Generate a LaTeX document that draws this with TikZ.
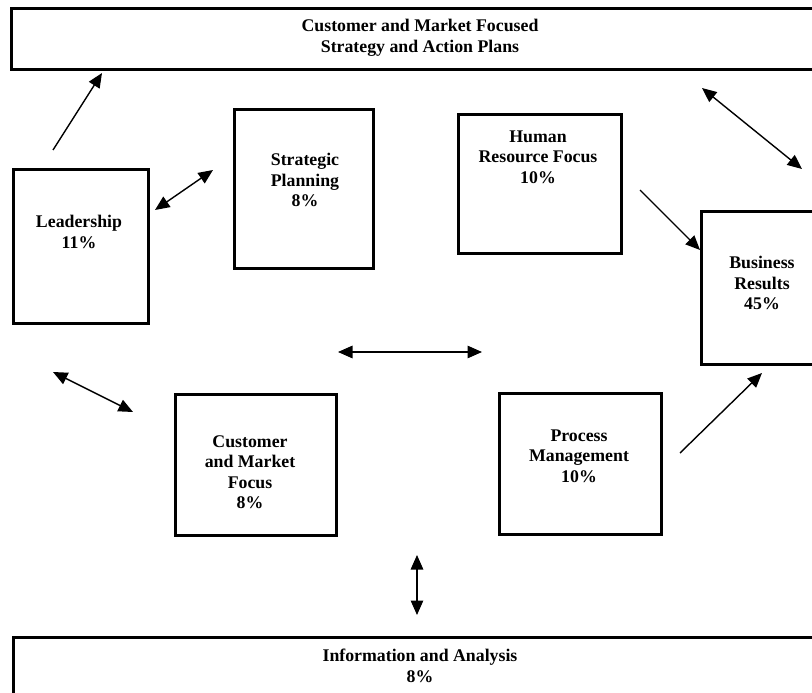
\documentclass[tikz,border=0pt]{standalone}
\usepackage{fontspec}
\setmainfont{Liberation Serif}
\usetikzlibrary{arrows.meta}

\tikzset{
  frame/.style={draw=black, line width=3pt, inner sep=0pt},
  caption/.style={align=center, inner sep=0pt,
    font=\fontsize{17.8}{20.5}\selectfont\bfseries},
  link/.style={line width=1.4pt,
    -{Triangle[length=14.5pt,width=12.5pt]}},
  twoway/.style={line width=1.4pt,
    {Triangle[length=14.5pt,width=12.5pt]}-{Triangle[length=14.5pt,width=12.5pt]}},
}

\begin{document}
\begin{tikzpicture}[x=1pt,y=-1pt]
  \useasboundingbox (0,0) rectangle (812,693);
  \begin{scope}
    \clip (0,0) rectangle (812,693);

    % boxes (placed by their top left corners, y downwards)
    \node[frame, minimum width=820pt, minimum height=61pt, anchor=north west] (strat) at (10,7) {};
    \node[frame, minimum width=818pt, minimum height=90pt, anchor=north west] (info) at (12,636) {};
    \node[frame, minimum width=135pt, minimum height=154pt, anchor=north west] (lead) at (12,168) {};
    \node[frame, minimum width=139pt, minimum height=159pt, anchor=north west] (plan) at (233,108) {};
    \node[frame, minimum width=163pt, minimum height=139pt, anchor=north west] (hr) at (457,113) {};
    \node[frame, minimum width=124pt, minimum height=153pt, anchor=north west] (biz) at (700,210) {};
    \node[frame, minimum width=161pt, minimum height=141pt, anchor=north west] (cmf) at (174,393) {};
    \node[frame, minimum width=162pt, minimum height=141pt, anchor=north west] (proc) at (498,392) {};

    % texts
    \node[caption] (tstrat) at (420,38) {Customer and Market Focused\\Strategy and Action Plans};
    \node[caption] (tinfo) at (420,666) {Information and Analysis\\8\%};
    \node[caption] (tlead) at (79,232) {Leadership\\11\%};
    \node[caption] (tplan) at (305,180) {Strategic\\Planning\\8\%};
    \node[caption] (thr) at (538,157) {Human\\Resource Focus\\10\%};
    \node[caption] (tbiz) at (762,283) {Business\\Results\\45\%};
    \node[caption] (tcmf) at (250,472) {Customer\\and Market\\Focus\\8\%};
    \node[caption] (tproc) at (579,456) {Process\\Management\\10\%};

    % connector end points
    \coordinate (a1s) at (53,150);  \coordinate (a1e) at (102,73);
    \coordinate (a2s) at (155,210); \coordinate (a2e) at (213,170);
    \coordinate (a3s) at (702,88);  \coordinate (a3e) at (802,169);
    \coordinate (a4s) at (640,190); \coordinate (a4e) at (700,250);
    \coordinate (a5s) at (338,352); \coordinate (a5e) at (482,352);
    \coordinate (a6s) at (53,372);  \coordinate (a6e) at (133,412);
    \coordinate (a7s) at (680,453); \coordinate (a7e) at (762,373);
    \coordinate (a8s) at (417,555); \coordinate (a8e) at (417,615);

    % connectors
    \draw[link]   (a1s) -- (a1e);
    \draw[twoway] (a2s) -- (a2e);
    \draw[twoway] (a3s) -- (a3e);
    \draw[link]   (a4s) -- (a4e);
    \draw[twoway] (a5s) -- (a5e);
    \draw[twoway] (a6s) -- (a6e);
    \draw[link]   (a7s) -- (a7e);
    \draw[twoway] (a8s) -- (a8e);
  \end{scope}
\end{tikzpicture}
\end{document}
